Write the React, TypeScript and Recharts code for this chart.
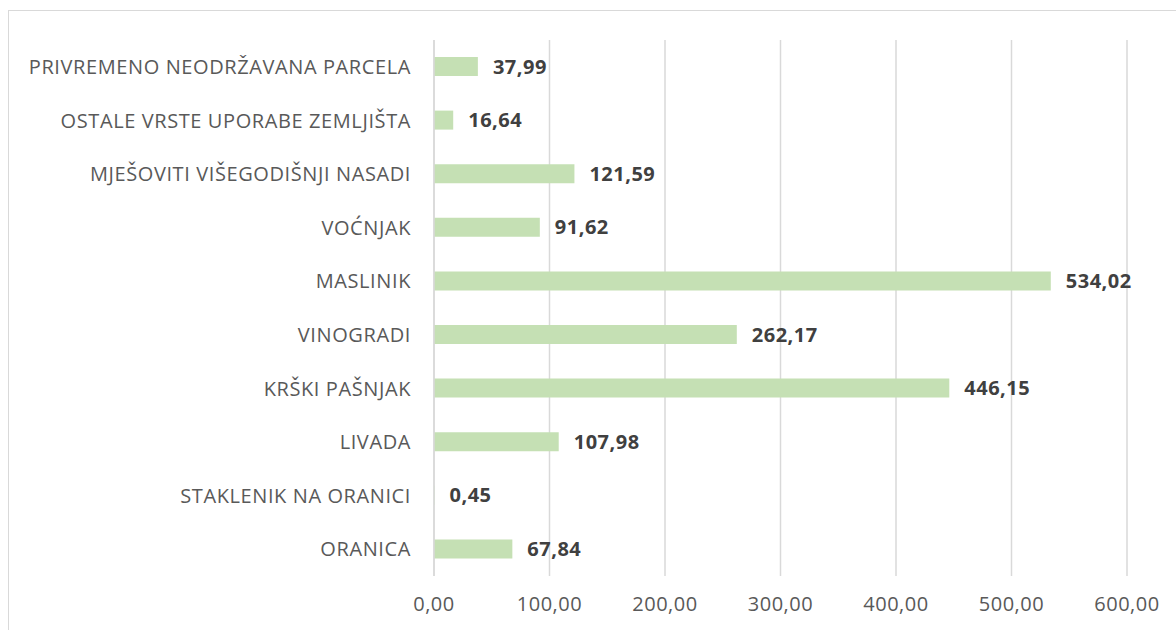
import React from 'react';
import { BarChart, Bar, XAxis, YAxis, CartesianGrid, LabelList } from 'recharts';

const categories = [
  'PRIVREMENO NEODRŽAVANA PARCELA',
  'OSTALE VRSTE UPORABE ZEMLJIŠTA',
  'MJEŠOVITI VIŠEGODIŠNJI NASADI',
  'VOĆNJAK',
  'MASLINIK',
  'VINOGRADI',
  'KRŠKI PAŠNJAK',
  'LIVADA',
  'STAKLENIK NA ORANICI',
  'ORANICA',
];

const areas = [37.99, 16.64, 121.59, 91.62, 534.02, 262.17, 446.15, 107.98, 0.45, 67.84];

const xTicks = [0, 100, 200, 300, 400, 500, 600];

const data = categories.map((name, i) => ({ name, value: areas[i] }));

const fmt = (v: number) => v.toFixed(2).replace('.', ',');

const font = '"Open Sans", sans-serif';

export default function App() {
  return (
    <div style={{ position: 'absolute', left: 0, top: 0, width: 1176, height: 630, overflow: 'hidden', background: '#fff' }}>
      <div
        style={{
          position: 'absolute',
          left: 8,
          top: 10,
          width: 1200,
          height: 640,
          border: '1px solid #D9D9D9',
        }}
      />
      <div style={{ position: 'absolute', left: 0, top: 0 }}>
        <BarChart
          width={1176}
          height={630}
          data={data}
          layout="vertical"
          margin={{ top: 40, right: 49, bottom: 14, left: 0 }}
        >
          <CartesianGrid horizontal={false} stroke="#D9D9D9" strokeWidth={1.5} />
          <XAxis
            type="number"
            domain={[0, 600]}
            ticks={xTicks}
            tickFormatter={fmt}
            axisLine={false}
            tickLine={false}
            height={40}
            tickMargin={15}
            tick={{ fill: '#595959', fontSize: 20, fontFamily: font, letterSpacing: 0.5 }}
          />
          <YAxis
            type="category"
            dataKey="name"
            width={434}
            axisLine={{ stroke: '#D9D9D9', strokeWidth: 1.5 }}
            tickLine={false}
            tickSize={0}
            tickMargin={23}
            interval={0}
            tick={{ fill: '#595959', fontSize: 20, fontFamily: font, letterSpacing: 0.6 }}
          />
          <Bar dataKey="value" fill="#C5E0B4" barSize={19} isAnimationActive={false}>
            <LabelList
              dataKey="value"
              position="right"
              offset={15}
              formatter={(v: number) => fmt(v)}
              style={{ fill: '#404040', fontSize: 20, fontWeight: 700, fontFamily: font, letterSpacing: 0.5 }}
            />
          </Bar>
        </BarChart>
      </div>
    </div>
  );
}
